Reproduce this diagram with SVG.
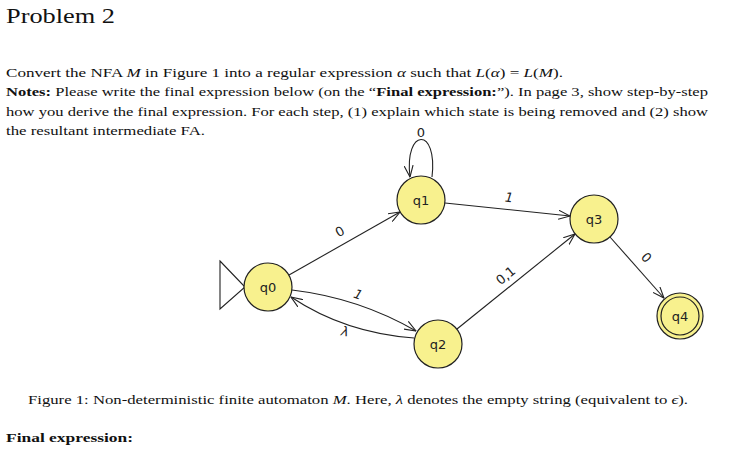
<svg xmlns="http://www.w3.org/2000/svg" width="729" height="465" viewBox="0 0 729 465">
<style>
.serif{font-family:'Liberation Serif','Times New Roman',serif;fill:#111}
.body{font-size:13.5px}
.it{font-style:italic}
.b{font-weight:bold}
.node{fill:#f8f18e;stroke:#222;stroke-width:1.2}
.nlabel{font-family:'DejaVu Sans',sans-serif;font-size:13px;fill:#222;text-anchor:middle}
.elabel{font-family:'DejaVu Sans',sans-serif;font-size:13px;fill:#222;text-anchor:middle}
.sl{font-style:italic}
.edge{fill:none;stroke:#222;stroke-width:1.1}
</style>
<defs>
<marker id="arr" viewBox="0 0 12 10" refX="11.5" refY="5" markerWidth="12" markerHeight="10" markerUnits="userSpaceOnUse" orient="auto">
<path d="M0,0.5 L11.5,5 L0,9.5" fill="none" stroke="#222" stroke-width="1.1"/>
</marker>
</defs>
<rect width="729" height="465" fill="#fff"/>

<text class="serif" x="6" y="23" font-size="21" textLength="109" lengthAdjust="spacingAndGlyphs">Problem 2</text>

<text class="serif body" x="6" y="77" textLength="557" lengthAdjust="spacingAndGlyphs">Convert the NFA <tspan class="it">M</tspan> in Figure 1 into a regular expression <tspan class="it">α</tspan> such that <tspan class="it">L</tspan>(<tspan class="it">α</tspan>) = <tspan class="it">L</tspan>(<tspan class="it">M</tspan>).</text>
<text class="serif body" x="6" y="96" textLength="702" lengthAdjust="spacingAndGlyphs"><tspan class="b">Notes:</tspan> Please write the final expression below (on the “<tspan class="b">Final expression:</tspan>”). In page 3, show step-by-step</text>
<text class="serif body" x="6" y="116" textLength="702" lengthAdjust="spacingAndGlyphs">how you derive the final expression. For each step, (1) explain which state is being removed and (2) show</text>
<text class="serif body" x="6" y="135" textLength="199" lengthAdjust="spacingAndGlyphs">the resultant intermediate FA.</text>

<g id="connectors">
<path class="edge" d="M220,261 L245,287 L220,309 Z"/>
<path class="edge" d="M289,275 L400,212" marker-end="url(#arr)"/>
<path class="edge" d="M432,177 C438,126 404,128 410,177" marker-end="url(#arr)"/>
<path class="edge" d="M445,203 L570,216" marker-end="url(#arr)"/>
<path class="edge" d="M292,290 Q359,298 416,331" marker-end="url(#arr)"/>
<path class="edge" d="M414,338 Q345,333 291,297" marker-end="url(#arr)"/>
<path class="edge" d="M457,329 L575,234" marker-end="url(#arr)"/>
<path class="edge" d="M610,237 L664,298" marker-end="url(#arr)"/>
<text class="elabel" x="340" y="236" transform="rotate(-29.6 340 232)">0</text>
<text class="elabel" x="421" y="137">0</text>
<text class="elabel sl" x="509" y="202" transform="rotate(6 509 198)">1</text>
<text class="elabel sl" x="358" y="299" transform="rotate(20 358 295)">1</text>
<text class="elabel sl" x="345" y="336" transform="rotate(10 345 332)">λ</text>
<text class="elabel" x="506" y="280" transform="rotate(-38.7 506 276)">0,1</text>
<text class="elabel" x="646" y="262" transform="rotate(48 646 258)">0</text>
</g>

<g id="q0"><circle class="node" cx="268" cy="287" r="24"/><text class="nlabel" x="268" y="292">q0</text></g>
<g id="q1"><circle class="node" cx="421" cy="200" r="24"/><text class="nlabel" x="421" y="205">q1</text></g>
<g id="q2"><circle class="node" cx="438" cy="344" r="24"/><text class="nlabel" x="438" y="349">q2</text></g>
<g id="q3"><circle class="node" cx="594" cy="219" r="24"/><text class="nlabel" x="594" y="224">q3</text></g>
<g id="q4"><circle class="node" cx="680" cy="316" r="23"/><circle class="node" cx="680" cy="316" r="19"/><text class="nlabel" x="680" y="321">q4</text></g>

<text class="serif body" x="28" y="404" textLength="660" lengthAdjust="spacingAndGlyphs">Figure 1: Non-deterministic finite automaton <tspan class="it">M</tspan>. Here, <tspan class="it">λ</tspan> denotes the empty string (equivalent to <tspan class="it">ϵ</tspan>).</text>
<text class="serif body b" x="6" y="442" textLength="127" lengthAdjust="spacingAndGlyphs">Final expression:</text>
</svg>
